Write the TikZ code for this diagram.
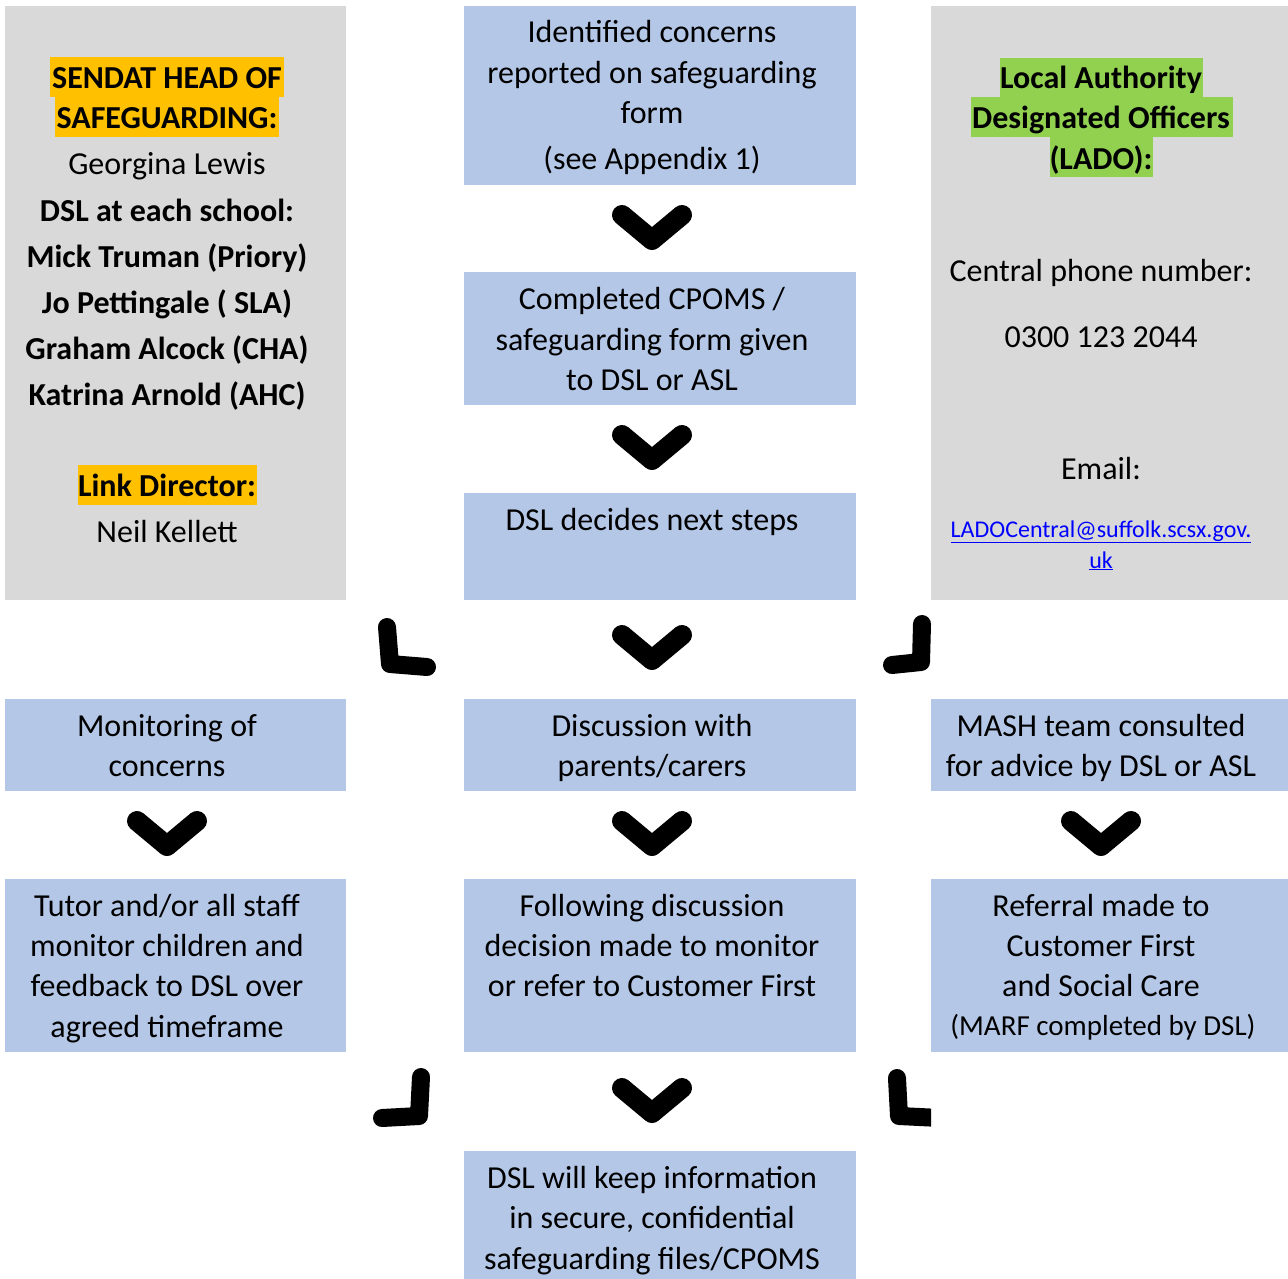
\documentclass[tikz,border=0pt]{standalone}
\usepackage{fontspec}
\setmainfont{Carlito}
\definecolor{boxgrey}{HTML}{D9D9D9}
\definecolor{boxblue}{HTML}{B4C7E7}
\definecolor{hlorange}{HTML}{FFC000}
\definecolor{hlgreen}{HTML}{92D050}
\definecolor{linkblue}{HTML}{0000FF}
\begin{document}
\begin{tikzpicture}[x=1pt,y=-1pt,
  greybox/.style={fill=boxgrey,draw=none},
  bluebox/.style={fill=boxblue,draw=none},
  tx/.style={anchor=base,inner sep=0pt,font=\fontsize{32}{39}\selectfont},
  tb/.style={tx,font=\fontsize{32}{39}\selectfont\bfseries},
  ts/.style={tx,font=\fontsize{29}{35}\selectfont},
  tl/.style={anchor=base,inner sep=0pt,font=\fontsize{24}{29}\selectfont,text=linkblue},
  chev/.style={line width=20pt,line cap=round,line join=round,black},
  ell/.style={line width=18pt,line cap=round,line join=round,black}]
\useasboundingbox (0,0) rectangle (1288,1279);
% boxes
\fill[greybox] (5,6) rectangle (346,600);
\fill[greybox] (931,6) rectangle (1288,600);
\fill[bluebox] (464,6) rectangle (856,185);
\fill[bluebox] (464,272) rectangle (856,405);
\fill[bluebox] (464,493) rectangle (856,600);
\fill[bluebox] (5,699) rectangle (346,791);
\fill[bluebox] (464,699) rectangle (856,791);
\fill[bluebox] (931,699) rectangle (1288,791);
\fill[bluebox] (5,879) rectangle (346,1052);
\fill[bluebox] (464,879) rectangle (856,1052);
\fill[bluebox] (931,879) rectangle (1288,1052);
\fill[bluebox] (464,1151) rectangle (856,1279);
% highlights
\fill[hlorange] (50,57) rectangle (284,97);
\fill[hlorange] (55,97) rectangle (279,137);
\fill[hlorange] (78,465) rectangle (257,505);
\fill[hlgreen] (1000,58) rectangle (1203,97);
\fill[hlgreen] (971,97) rectangle (1233,137);
\fill[hlgreen] (1050,137) rectangle (1153,177);
% left column text
\node[tb] (l1) at (167,89) {SENDAT HEAD OF};
\node[tb] (l2) at (167,129) {SAFEGUARDING:};
\node[tx] (l3) at (167,175) {Georgina Lewis};
\node[tb] (l4) at (167,221) {DSL at each school:};
\node[tb] (l5) at (167,267) {Mick Truman (Priory)};
\node[tb] (l6) at (167,313) {Jo Pettingale ( SLA)};
\node[tb] (l7) at (167,359) {Graham Alcock (CHA)};
\node[tb] (l8) at (167,405) {Katrina Arnold (AHC)};
\node[tb] (l9) at (167,496) {Link Director:};
\node[tx] (l10) at (167,542) {Neil Kellett};
% right column text
\node[tb] (r1) at (1101,89) {Local Authority};
\node[tb] (r2) at (1101,129) {Designated Officers};
\node[tb] (r3) at (1101,169) {(LADO):};
\node[tx] (r4) at (1101,281) {Central phone number:};
\node[tx] (r5) at (1101,347) {0300 123 2044};
\node[tx] (r6) at (1101,479) {Email:};
\node[tl] (r7) at (1101,537) {\underline{LADOCentral@suffolk.scsx.gov.}};
\node[tl] (r8) at (1101,568) {\underline{uk}};
% centre column text
\node[tx] (c1) at (652,43) {Identified concerns};
\node[tx] (c2) at (652,84) {reported on safeguarding};
\node[tx] (c3) at (652,124) {form};
\node[tx] (c4) at (652,170) {(see Appendix 1)};
\node[tx] (c5) at (652,309) {Completed CPOMS /};
\node[tx] (c6) at (652,350) {safeguarding form given};
\node[tx] (c7) at (652,390) {to DSL or ASL};
\node[tx] (c8) at (652,530) {DSL decides next steps};
% row 2
\node[tx] (m1) at (167,736) {Monitoring of};
\node[tx] (m2) at (167,776) {concerns};
\node[tx] (d1) at (652,736) {Discussion with};
\node[tx] (d2) at (652,776) {parents/carers};
\node[tx] (h1) at (1101,736) {MASH team consulted};
\node[tx] (h2) at (1101,776) {for advice by DSL or ASL};
% row 3
\node[tx] (t1) at (167,916) {Tutor and/or all staff};
\node[tx] (t2) at (167,956) {monitor children and};
\node[tx] (t3) at (167,996) {feedback to DSL over};
\node[tx] (t4) at (167,1037) {agreed timeframe};
\node[tx] (f1) at (652,916) {Following discussion};
\node[tx] (f2) at (652,956) {decision made to monitor};
\node[tx] (f3) at (652,996) {or refer to Customer First};
\node[tx] (e1) at (1101,916) {Referral made to};
\node[tx] (e2) at (1101,956) {Customer First};
\node[tx] (e3) at (1101,996) {and Social Care};
\node[ts] (e4) at (1103,1035) {(MARF completed by DSL)};
% bottom
\node[tx] (b1) at (652,1188) {DSL will keep information};
\node[tx] (b2) at (652,1228) {in secure, confidential};
\node[tx] (b3) at (652,1269) {safeguarding files/CPOMS};
% chevrons
\foreach \cx/\cy in {652/205,652/425,652/625,167/811,652/811,1101/811,652/1078}{
  \draw[chev] (\cx-30,\cy+10) -- (\cx,\cy+35) -- (\cx+30,\cy+10);
}
% L-shaped arrows
\draw[ell] (387,627) -- (390,664) -- (427,667);
\begin{scope}
\clip (850,600) rectangle (931,700);
\draw[ell] (922,624) -- (921,662) -- (892,665);
\end{scope}
\draw[ell] (421,1077) -- (419,1116) -- (382,1118);
\begin{scope}
\clip (850,1060) rectangle (931,1140);
\draw[ell] (897,1078) -- (899,1116) -- (940,1118);
\end{scope}
\end{tikzpicture}
\end{document}
